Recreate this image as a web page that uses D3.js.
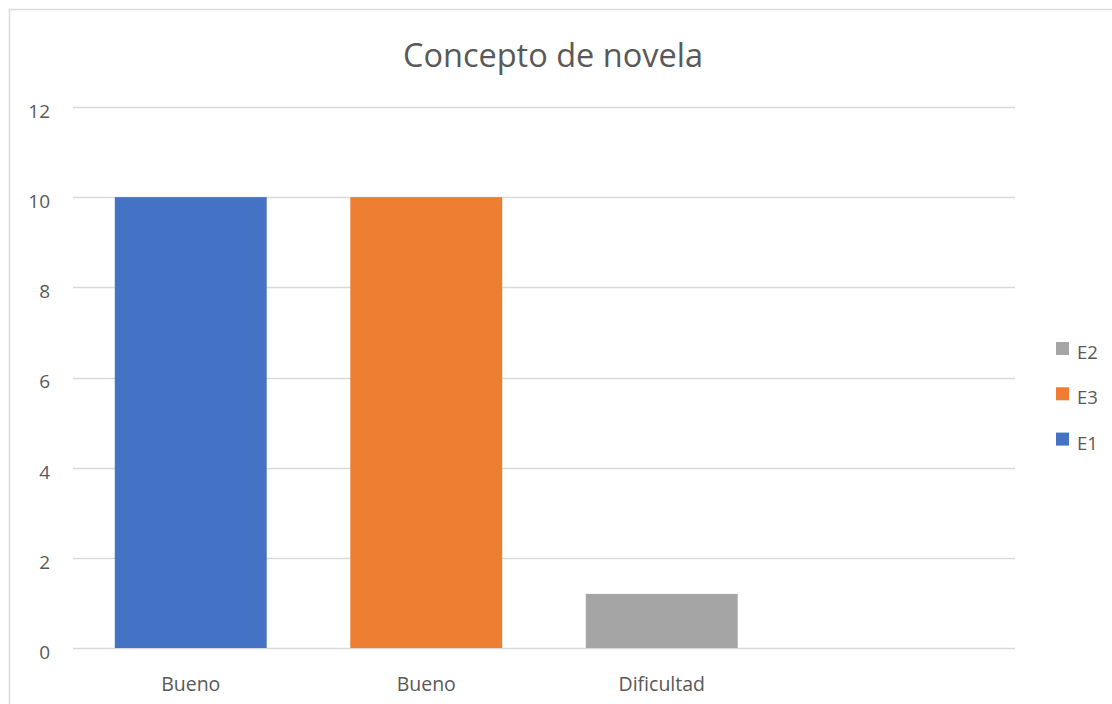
<!DOCTYPE html>
<html>
<head>
<meta charset="utf-8">
<script src="https://cdn.jsdelivr.net/npm/d3@7"></script>
<style>
  body { margin: 0; background: #fff; }
  text { font-family: "Open Sans", "Liberation Sans", sans-serif; fill: #595959; }
</style>
</head>
<body>
<div id="vis-svg"></div>
<script>
var width = 1112;
var height = 704;

// data
var categories = ["Bueno", "Bueno", "Dificultad", ""];
var seriesNames = ["E1", "E3", "E2"];
var E1 = [10, 0, 0, 0];
var E3 = [0, 10, 0, 0];
var E2 = [0, 0, 1.2, 0];
var yTicks = [0, 2, 4, 6, 8, 10, 12];
var legendOrder = ["E2", "E3", "E1"];

var colors = { E1: "#4472c4", E3: "#ed7d31", E2: "#a5a5a5" };
var values = { E1: E1, E3: E3, E2: E2 };

var margin = { left: 73, right: 97, top: 107, bottom: 56 };

var svg = d3
  .select("#vis-svg")
  .append("svg")
  .attr("width", width)
  .attr("height", height);

// chart border
svg.append("rect")
  .attr("x", 9.5).attr("y", 9.5)
  .attr("width", width + 10).attr("height", height + 10)
  .attr("fill", "none")
  .attr("stroke", "#d9d9d9")
  .attr("stroke-width", 1.5);

var x = d3.scaleBand()
  .domain(d3.range(categories.length))
  .range([margin.left, width - margin.right])
  .paddingInner(0.355)
  .paddingOuter(0.1775);

var y = d3.scaleLinear()
  .domain([0, 12])
  .range([height - margin.bottom, margin.top]);

// gridlines
svg.append("g")
  .selectAll("line")
  .data(yTicks)
  .enter()
  .append("line")
  .attr("x1", margin.left)
  .attr("x2", width - margin.right)
  .attr("y1", function(d) { return Math.round(y(d)) + 0.5; })
  .attr("y2", function(d) { return Math.round(y(d)) + 0.5; })
  .attr("stroke", "#d9d9d9")
  .attr("stroke-width", 1.3);

// y labels
svg.append("g")
  .selectAll("text")
  .data(yTicks)
  .enter()
  .append("text")
  .attr("x", 50)
  .attr("y", function(d) { return y(d) + 4; })
  .attr("dy", "0.36em")
  .attr("text-anchor", "end")
  .attr("font-size", 19)
  .text(function(d) { return d; });

// bars (stacked per category)
var rows = categories.map(function(c, i) {
  var r = { i: i };
  seriesNames.forEach(function(s) { r[s] = values[s][i]; });
  return r;
});
var stack = d3.stack().keys(seriesNames)(rows);

svg.append("g")
  .selectAll("g")
  .data(stack)
  .enter()
  .append("g")
  .attr("fill", function(d) { return colors[d.key]; })
  .selectAll("rect")
  .data(function(d) { return d; })
  .enter()
  .filter(function(d) { return d[1] - d[0] > 0; })
  .append("rect")
  .attr("x", function(d) { return x(d.data.i); })
  .attr("width", x.bandwidth())
  .attr("y", function(d) { return y(d[1]); })
  .attr("height", function(d) { return y(d[0]) - y(d[1]); });

// category labels
svg.append("g")
  .selectAll("text")
  .data(categories)
  .enter()
  .append("text")
  .attr("x", function(d, i) { return x(i) + x.bandwidth() / 2; })
  .attr("y", 691)
  .attr("text-anchor", "middle")
  .attr("font-size", 19.5)
  .text(function(d) { return d; });

// title
svg.append("text")
  .attr("x", 553)
  .attr("y", 67)
  .attr("text-anchor", "middle")
  .attr("font-size", 32.5)
  .text("Concepto de novela");

// legend
var legend = svg.append("g")
  .selectAll("g")
  .data(legendOrder)
  .enter()
  .append("g")
  .attr("transform", function(d, i) { return "translate(1056," + (342 + i * 45.3) + ")"; });

legend.append("rect")
  .attr("width", 13).attr("height", 13)
  .attr("fill", function(d) { return colors[d]; });

legend.append("text")
  .attr("x", 21)
  .attr("y", 17)
  .attr("font-size", 18.5)
  .text(function(d) { return d; });
</script>
</body>
</html>
